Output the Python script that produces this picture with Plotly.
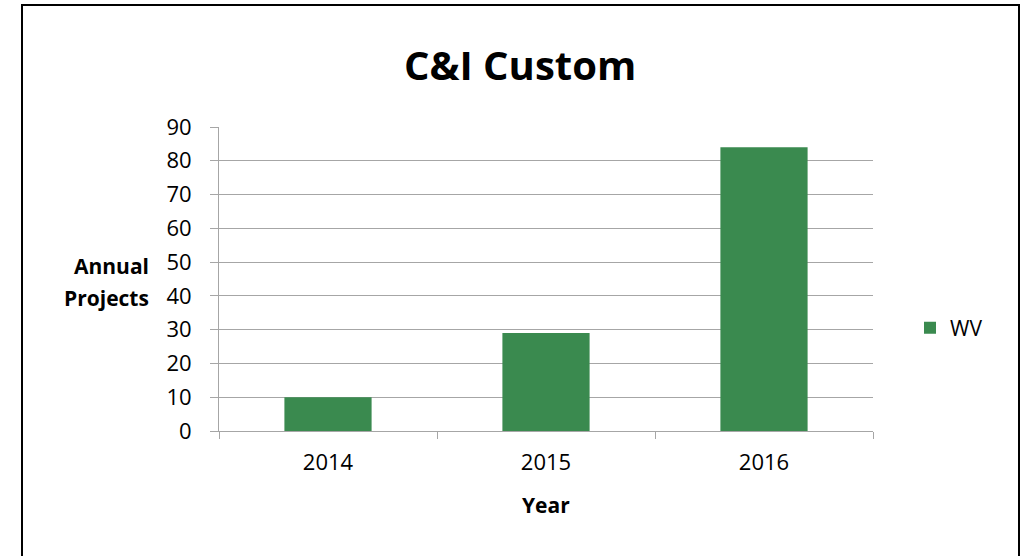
import plotly.graph_objects as go

years = ["2014", "2015", "2016"]
wv_projects = [10, 29, 84]
y_ticks = [0, 10, 20, 30, 40, 50, 60, 70, 80, 90]

FONT = "Open Sans, sans-serif"
W, H = 1023, 556
L, R, T, B = 219, 150, 127, 125
pw, ph = W - L - R, H - T - B

def px_x(p):
    return (p - L) / pw

def px_y(p):
    return (H - B - p) / ph

fig = go.Figure()
fig.add_trace(go.Bar(x=years, y=wv_projects, name="WV",
                     marker=dict(color="#3a8a4f", line=dict(width=0)),
                     width=0.4))

fig.update_layout(
    width=W, height=H,
    margin=dict(l=L, r=R, t=T, b=B, autoexpand=False),
    paper_bgcolor="white", plot_bgcolor="white",
    font=dict(family=FONT, size=21, color="black"),
    showlegend=True,
    legend=dict(x=px_x(910), y=px_y(328), xanchor="left", yanchor="middle",
                font=dict(size=21), bgcolor="rgba(0,0,0,0)", itemwidth=30),
    bargap=0.6,
    xaxis=dict(type="category", showline=True, linecolor="#a6a6a6", linewidth=1,
               ticks="outside", tickson="boundaries", ticklen=7, tickcolor="#a6a6a6",
               showgrid=False, ticklabelstandoff=12, tickfont=dict(size=22)),
    yaxis=dict(range=[0, 90], tickvals=y_ticks, showline=True, linecolor="#a6a6a6",
               linewidth=1, ticks="outside", ticklen=8, tickcolor="#a6a6a6",
               showgrid=True, gridcolor="#a6a6a6", gridwidth=1, zeroline=False,
               ticklabelstandoff=14, tickfont=dict(size=22)),
)

fig.add_annotation(text="<b>C&I Custom</b>", xref="paper", yref="paper",
                   x=px_x(520), y=px_y(64), showarrow=False,
                   font=dict(size=40, family=FONT), xanchor="center", yanchor="middle")
fig.add_annotation(text="<b>Annual</b>", xref="paper", yref="paper",
                   x=px_x(151), y=px_y(266), showarrow=False, align="right",
                   font=dict(size=21, family=FONT), xanchor="right", yanchor="middle")
fig.add_annotation(text="<b>Projects</b>", xref="paper", yref="paper",
                   x=px_x(151), y=px_y(298), showarrow=False, align="right",
                   font=dict(size=21, family=FONT), xanchor="right", yanchor="middle")
fig.add_annotation(text="<b>Year</b>", xref="paper", yref="paper",
                   x=px_x(546), y=px_y(505), showarrow=False,
                   font=dict(size=21, family=FONT), xanchor="center", yanchor="middle")

fig.add_shape(type="rect", xref="paper", yref="paper",
              x0=px_x(22), x1=px_x(1019), y0=px_y(570), y1=px_y(5),
              line=dict(color="black", width=2), fillcolor="rgba(0,0,0,0)", layer="above")

fig.write_html("out.html", config={"displayModeBar": False},
               post_script="document.body.style.margin='0';document.body.style.overflow='hidden';")
